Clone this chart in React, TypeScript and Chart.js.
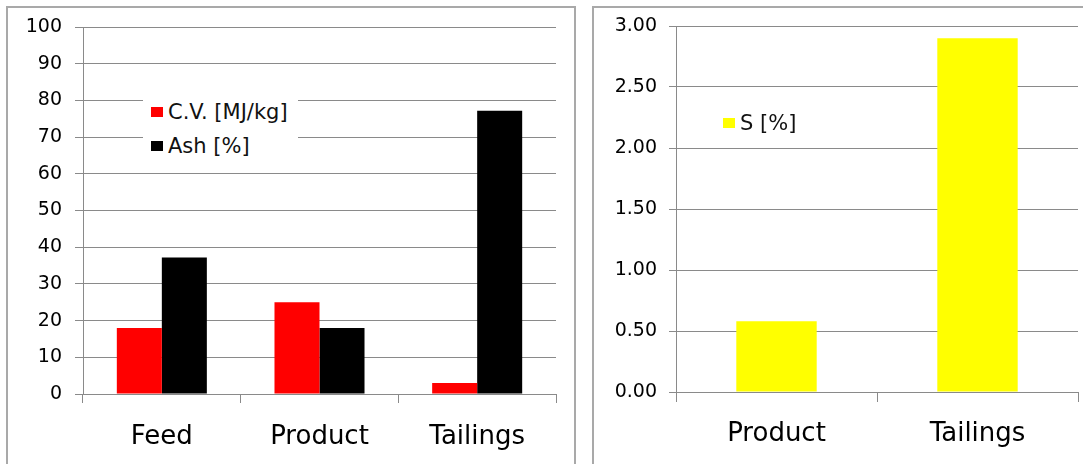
import React, { useEffect, useRef } from "react";
import { Chart, registerables } from "chart.js";

Chart.register(...registerables);

// ---- data ----
const leftCategories = ["Feed", "Product", "Tailings"];
const cvValues = [18, 25, 3];
const ashValues = [37.2, 18, 77.2];
const leftTicksMax = 100;
const leftTickStep = 10;

const rightCategories = ["Product", "Tailings"];
const sValues = [0.58, 2.9];
const rightTicksMax = 3;
const rightTickStep = 0.5;

const leftSeries = [
  { label: "C.V. [MJ/kg]", color: "#ff0000", data: cvValues },
  { label: "Ash [%]", color: "#000000", data: ashValues },
];
const rightSeries = [{ label: "S [%]", color: "#ffff00", data: sValues }];

const FONT = "'DejaVu Sans', Verdana, sans-serif";
const GRID = "#8a8a8a";

function makeOptions(cfg: any) {
  return {
    responsive: false,
    animation: false as const,
    layout: { padding: { top: cfg.padTop, right: cfg.padRight, left: 0, bottom: 0 } },
    plugins: { legend: { display: false }, tooltip: { enabled: false } },
    scales: {
      x: {
        offset: true,
        grid: {
          offset: true,
          drawOnChartArea: false,
          drawTicks: true,
          tickLength: cfg.xTickLen,
          color: GRID,
          lineWidth: 1,
        },
        border: { display: true, color: GRID, width: 1 },
        ticks: {
          font: { family: FONT, size: 26 },
          color: "#000",
          padding: cfg.xPad,
          maxRotation: 0,
          autoSkip: false,
        },
        afterFit: (s: any) => {
          s.height = cfg.xHeight;
          s.paddingLeft = 0;
          s.paddingRight = 0;
        },
      },
      y: {
        min: 0,
        max: cfg.yMax,
        grid: {
          drawTicks: true,
          tickLength: cfg.yTickLen,
          color: GRID,
          lineWidth: 1,
        },
        border: { display: true, color: GRID, width: 1 },
        ticks: {
          stepSize: cfg.yStep,
          font: { family: FONT, size: 19 },
          color: "#000",
          padding: cfg.yPad,
          callback: cfg.fmt,
        },
        afterFit: (s: any) => {
          s.width = cfg.yWidth;
          s.paddingTop = 0;
          s.paddingBottom = 0;
        },
      },
    },
  };
}

function BarChart(props: any) {
  const ref = useRef<HTMLCanvasElement | null>(null);
  useEffect(() => {
    if (!ref.current) return;
    const chart = new Chart(ref.current, {
      type: "bar",
      data: {
        labels: props.categories,
        datasets: props.series.map((s: any) => ({
          label: s.label,
          data: s.data,
          backgroundColor: s.color,
          borderWidth: 0,
          categoryPercentage: props.catPct,
          barPercentage: 1,
        })),
      },
      options: makeOptions(props.cfg) as any,
    });
    return () => chart.destroy();
  }, []);
  return (
    <canvas
      ref={ref}
      width={props.w}
      height={props.h}
      style={{ position: "absolute", left: props.x, top: props.y, width: props.w, height: props.h }}
    />
  );
}

function Legend(props: any) {
  return (
    <div
      style={{
        position: "absolute",
        left: props.x,
        top: props.y,
        width: props.w,
        height: props.h,
        background: props.bg,
      }}
    >
      {props.series.map((s: any, i: number) => (
        <div
          key={s.label}
          style={{
            position: "absolute",
            left: props.padX,
            top: props.padY + i * props.rowH,
            height: 20,
            display: "flex",
            alignItems: "center",
            whiteSpace: "nowrap",
          }}
        >
          <span style={{ display: "inline-block", width: 12, height: 10, background: s.color, marginRight: 5 }} />
          <span style={{ fontFamily: FONT, fontSize: 21, color: "#111", lineHeight: "20px" }}>{s.label}</span>
        </div>
      ))}
    </div>
  );
}

export default function App() {
  return (
    <div
      style={{
        position: "fixed",
        left: 0,
        top: 0,
        width: 1083,
        height: 464,
        background: "#fff",
        overflow: "hidden",
      }}
    >
      <div
        style={{
          position: "absolute",
          left: 6,
          top: 6,
          width: 566,
          height: 480,
          border: "2px solid #a9a9a9",
        }}
      />
      <div
        style={{
          position: "absolute",
          left: 592,
          top: 6,
          width: 500,
          height: 480,
          border: "2px solid #a9a9a9",
        }}
      />
      <BarChart
        x={8}
        y={9}
        w={564}
        h={455}
        categories={leftCategories}
        series={leftSeries}
        catPct={0.571}
        cfg={{
          padTop: 18,
          padRight: 16,
          xHeight: 70,
          yWidth: 75,
          xTickLen: 9,
          yTickLen: 8,
          xPad: 19,
          yPad: 13,
          yMax: leftTicksMax,
          yStep: leftTickStep,
          fmt: (v: any) => String(v),
        }}
      />
      <BarChart
        x={596}
        y={9}
        w={487}
        h={455}
        categories={rightCategories}
        series={rightSeries}
        catPct={0.4}
        cfg={{
          padTop: 17,
          padRight: 5,
          xHeight: 72,
          yWidth: 80,
          xTickLen: 10,
          yTickLen: 7,
          xPad: 17,
          yPad: 12,
          yMax: rightTicksMax,
          yStep: rightTickStep,
          fmt: (v: any) => Number(v).toFixed(2),
        }}
      />
      <Legend x={143} y={92} w={155} h={68} bg="#fff" series={leftSeries} padX={8} padY={10} rowH={34} />
      <Legend x={715} y={103} w={100} h={40} bg="transparent" series={rightSeries} padX={8} padY={10} rowH={34} />
    </div>
  );
}
